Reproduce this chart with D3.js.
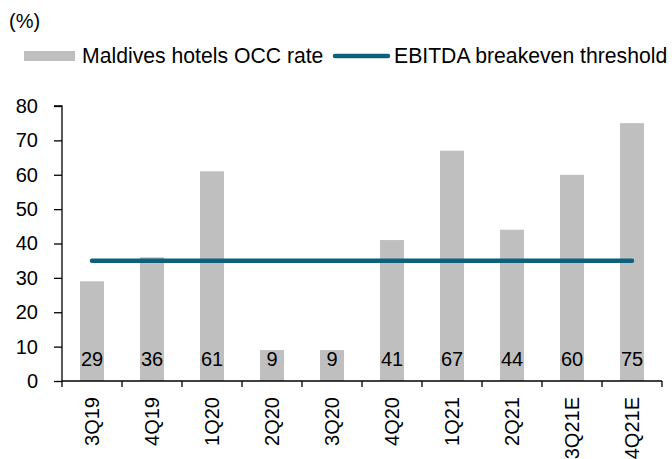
<!DOCTYPE html>
<html>
<head>
<meta charset="utf-8">
<script src="https://cdn.jsdelivr.net/npm/d3@7"></script>
<style>
  body { margin: 0; background: #fff; }
  text { font-family: "Liberation Sans", Arial, sans-serif; fill: #000; }
</style>
</head>
<body>
<svg id="chart" width="672" height="459"></svg>
<script>
// quarters shown on the x axis
const quarters = ['3Q19', '4Q19', '1Q20', '2Q20', '3Q20', '4Q20', '1Q21', '2Q21', '3Q21E', '4Q21E'];
// Maldives hotels OCC rate (%)
const occRate = [29, 36, 61, 9, 9, 41, 67, 44, 60, 75];
// EBITDA breakeven threshold (%)
const breakeven = [35, 35, 35, 35, 35, 35, 35, 35, 35, 35];
const yTicks = [0, 10, 20, 30, 40, 50, 60, 70, 80];
const seriesNames = ['Maldives hotels OCC rate', 'EBITDA breakeven threshold'];

const barColor = '#bfbfbf';
const lineColor = '#0d5f7e';
const fontSize = 20;

const svg = d3.select('#chart');
const margin = { left: 62, right: 10, top: 106, bottom: 78 };
const width = 672 - margin.left - margin.right;   // 600
const height = 459 - margin.top - margin.bottom;

const x = d3.scaleBand().domain(quarters).range([0, width]).paddingInner(0.6).paddingOuter(0.3);
const y = d3.scaleLinear().domain([0, 80]).range([height, 0]);

const g = svg.append('g').attr('transform', `translate(${margin.left},${margin.top})`);

// bars
g.selectAll('rect.bar')
  .data(occRate)
  .join('rect')
  .attr('class', 'bar')
  .attr('x', (d, i) => x(quarters[i]))
  .attr('y', d => y(d))
  .attr('width', x.bandwidth())
  .attr('height', d => height - y(d))
  .attr('fill', barColor);

// value labels near the base of each bar
g.selectAll('text.val')
  .data(occRate)
  .join('text')
  .attr('class', 'val')
  .attr('x', (d, i) => x(quarters[i]) + x.bandwidth() / 2)
  .attr('y', y(0) - 15)
  .attr('text-anchor', 'middle')
  .style('font-size', fontSize + 'px')
  .text(d => d);

// breakeven line
const line = d3.line()
  .x((d, i) => x(quarters[i]) + x.bandwidth() / 2)
  .y(d => y(d));
g.append('path')
  .datum(breakeven)
  .attr('d', line)
  .attr('fill', 'none')
  .attr('stroke', lineColor)
  .attr('stroke-width', 4.5)
  .attr('stroke-linecap', 'round');

// y axis
const yAxis = g.append('g')
  .call(d3.axisLeft(y).tickValues(yTicks).tickSize(8).tickPadding(16));
yAxis.select('.domain').attr('stroke', '#000').attr('stroke-width', 1.3)
  .attr('d', `M-8,${y(80)}H0V${y(0)}`);
yAxis.selectAll('.tick line').attr('stroke', '#000').attr('stroke-width', 1.3);
yAxis.selectAll('.tick text').style('font-size', fontSize + 'px').attr('fill', '#000');

// x axis: ticks between categories
const xAxis = g.append('g').attr('transform', `translate(0,${height})`);
xAxis.append('line')
  .attr('x1', 0).attr('x2', width)
  .attr('stroke', '#000').attr('stroke-width', 1.3);
const step = x.step();
xAxis.selectAll('line.tk')
  .data(d3.range(quarters.length + 1))
  .join('line')
  .attr('class', 'tk')
  .attr('x1', i => i * step).attr('x2', i => i * step)
  .attr('y1', 0).attr('y2', 6)
  .attr('stroke', '#000').attr('stroke-width', 1.3);
xAxis.selectAll('text.xl')
  .data(quarters)
  .join('text')
  .attr('class', 'xl')
  .attr('transform', d => `translate(${x(d) + x.bandwidth() / 2 + 7},16) rotate(-90)`)
  .attr('text-anchor', 'end')
  .style('font-size', fontSize + 'px')
  .text(d => d);

// unit label
svg.append('text').attr('x', 9).attr('y', 28).style('font-size', fontSize + 'px').text('(%)');

// legend
const lg = svg.append('g').attr('transform', 'translate(0,56)');
lg.append('rect').attr('x', 24).attr('y', -5).attr('width', 51).attr('height', 10).attr('fill', barColor);
lg.append('text').attr('x', 82).attr('y', 7).style('font-size', '21.2px').text(seriesNames[0]);
lg.append('line').attr('x1', 335).attr('x2', 388).attr('y1', 0).attr('y2', 0)
  .attr('stroke', lineColor).attr('stroke-width', 4.5).attr('stroke-linecap', 'round');
lg.append('text').attr('x', 394).attr('y', 7).style('font-size', '21.2px').text(seriesNames[1]);
</script>
</body>
</html>
